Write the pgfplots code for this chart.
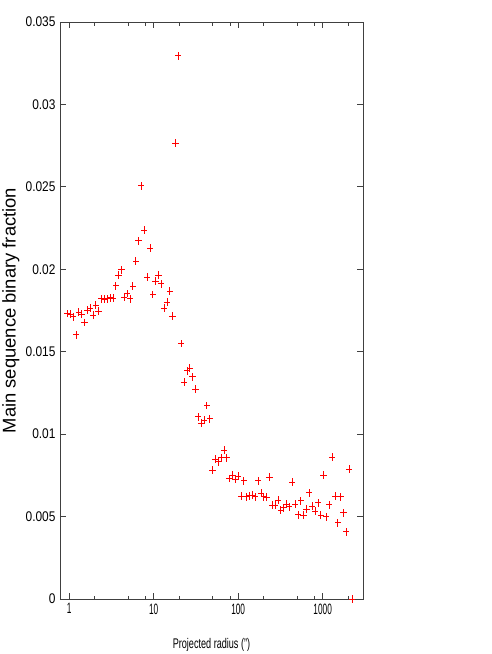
\documentclass[border=0pt]{standalone}
\usepackage{fontspec}
\setmainfont{Liberation Sans}[FakeStretch=0.65]
\newfontfamily\ylfont{Liberation Sans}
\newfontfamily\ytfont{Liberation Sans}[FakeStretch=0.85]
\newfontfamily\xtfont{Liberation Sans}[FakeStretch=0.55]
\usepackage{pgfplots}
\pgfplotsset{compat=1.18}
\usepackage{pgfplotstable}

% binned main sequence binary fraction vs projected radius
\pgfplotstableread{
r      f
0.955  0.01732
1.032  0.01727
1.115  0.01711
1.205  0.01604
1.302  0.01741
1.407  0.01727
1.521  0.01677
1.644  0.01752
1.776  0.01765
1.920  0.01721
2.075  0.01782
2.241  0.01745
2.422  0.01822
2.617  0.01818
2.829  0.01822
3.057  0.01828
3.303  0.01824
3.570  0.01899
3.858  0.01964
4.169  0.01998
4.505  0.01830
4.869  0.01853
5.261  0.01821
5.686  0.01897
6.145  0.02048
6.640  0.02173
7.176  0.02507
7.755  0.02236
8.380  0.01953
9.057  0.02129
9.782  0.01847
10.571 0.01929
11.424 0.01964
12.345 0.01913
13.342 0.01765
14.418 0.01800
15.581 0.01867
16.838 0.01714
18.196 0.02765
19.664 0.03295
21.250 0.01550
22.964 0.01315
24.817 0.01384
26.818 0.01400
28.973 0.01348
31.31  0.01273
33.84  0.01105
36.57  0.01065
39.52  0.01085
42.71  0.01174
46.15  0.01094
49.88  0.00782
53.90  0.00848
58.25  0.00832
62.95  0.00856
68.03  0.00903
73.51  0.00856
79.44  0.00731
85.85  0.00752
92.78  0.00727
100.2  0.00745
108.3  0.00624
117.0  0.00717
126.5  0.00620
136.7  0.00626
147.7  0.00630
159.6  0.00620
172.5  0.00717
186.4  0.00641
201.4  0.00620
217.7  0.00616
235.2  0.00739
254.2  0.00570
274.7  0.00570
296.9  0.00600
320.8  0.00539
346.7  0.00553
374.7  0.00574
404.9  0.00559
437.6  0.00707
472.9  0.00576
511.0  0.00511
552.2  0.00596
596.8  0.00509
644.9  0.00545
696.9  0.00644
753.2  0.00564
813.9  0.00533
879.6  0.00584
950.5  0.00507
1027   0.00750
1110   0.00499
1199   0.00572
1296   0.00859
1401   0.00624
1514   0.00462
1636   0.00620
1768   0.00523
1910   0.00408
2064   0.00786
2231   0.0
}\msbf

\begin{document}
\begin{tikzpicture}
\path[use as bounding box] (-60pt,-55pt) rectangle (431pt,599pt);
\begin{axis}[
    at={(0pt,0pt)}, anchor=south west,
    scale only axis,
    width=303pt, height=577pt,
    xmode=log,
    xmin=0.78, xmax=3000,
    ymin=0, ymax=0.035,
    xtick={1,10,100,1000},
    xticklabels={1,10,100,1000},
    minor xtick={2,5,8,20,50,80,200,500,800,2000},
    ytick={0,0.005,0.01,0.015,0.02,0.025,0.03,0.035},
    yticklabels={0,0.005,0.01,0.015,0.02,0.025,0.03,0.035},
    scaled y ticks=false,
    tick align=inside,
    major tick length=6pt,
    minor tick length=3.5pt,
    axis line style={black!75, line width=0.8pt},
    every tick/.style={black!75, line width=0.8pt},
    /pgf/number format/assume math mode=true,
    xticklabel style={font=\xtfont\fontsize{15}{15}\selectfont, yshift=-1pt},
    yticklabel style={font=\ytfont\fontsize{14}{14}\selectfont, xshift=-1pt},
    xlabel={Projected radius (")},
    xlabel style={font=\fontsize{14}{14}\selectfont, at={(axis description cs:0.5,-0.0797)}, anchor=center},
    ylabel={Main sequence binary fraction},
    ylabel style={font=\ylfont\fontsize{18.4}{18.4}\selectfont, at={(axis description cs:-0.162,0.5)}, anchor=center, rotate=0},
    clip=false,
]
% the "+" signs: short horizontal and vertical bars round each point
\addplot[draw=none, mark=none,
    error bars/.cd,
      x dir=both, x fixed relative=0.085,
      y dir=both, y fixed=0.00024,
      error mark=none,
      error bar style={red, line width=0.9pt}]
    table[x=r, y=f] {\msbf};
\end{axis}
\end{tikzpicture}
\end{document}
